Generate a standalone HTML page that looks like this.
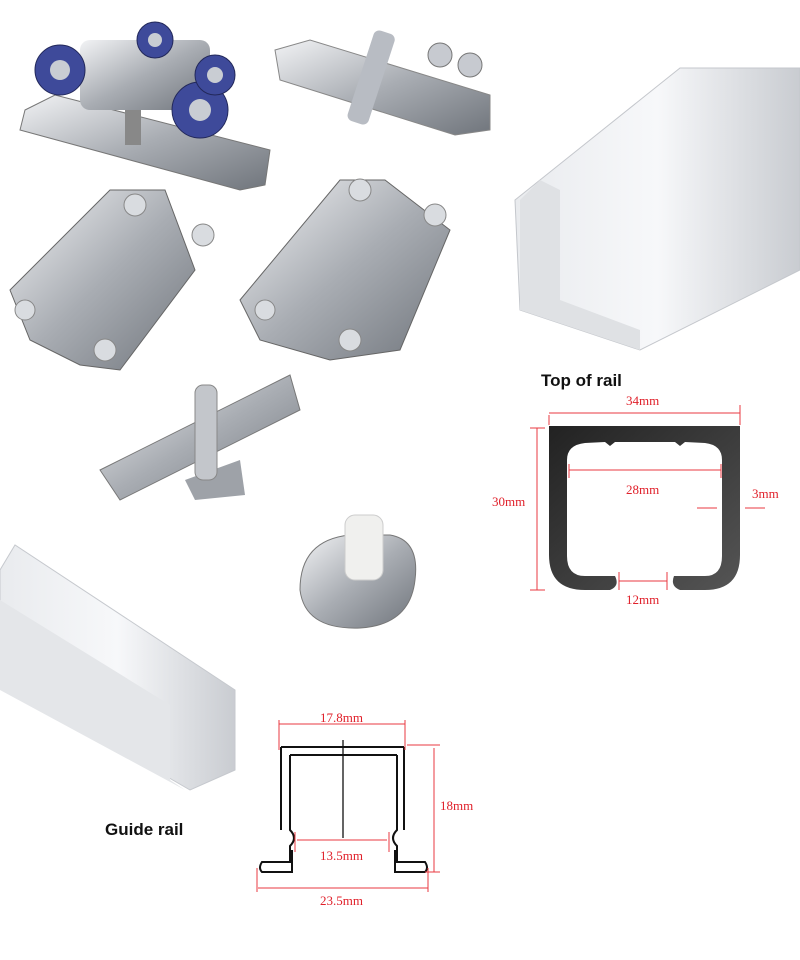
<!DOCTYPE html>
<html><head><meta charset="utf-8"><style>
html,body{margin:0;padding:0;background:#fff;width:800px;height:960px;overflow:hidden}
svg{display:block}
.d{font-family:"Liberation Serif",serif;fill:#e0202a;font-size:13px}
.t{font-family:"Liberation Sans",sans-serif;font-weight:bold;font-size:17px;fill:#111}
.r{stroke:#e83a40;stroke-width:1;fill:none}
</style></head><body>
<svg width="800" height="960" viewBox="0 0 800 960">
<defs>
<linearGradient id="m" x1="0" y1="0" x2="1" y2="1"><stop offset="0" stop-color="#f2f3f5"/><stop offset=".5" stop-color="#a9adb3"/><stop offset="1" stop-color="#70757c"/></linearGradient>
<linearGradient id="al" x1="0" y1="0" x2="1" y2="0"><stop offset="0" stop-color="#e9ebee"/><stop offset=".5" stop-color="#f7f8fa"/><stop offset="1" stop-color="#c9ccd1"/></linearGradient>
<linearGradient id="bk" x1="0" y1="0" x2="1" y2="1"><stop offset="0" stop-color="#222"/><stop offset="1" stop-color="#555"/></linearGradient>
</defs>
<!-- roller carriage -->
<path d="M25 110 L55 95 L270 150 L265 185 L240 190 L20 130Z" fill="url(#m)" stroke="#777"/>
<rect x="80" y="40" width="130" height="70" rx="10" fill="url(#m)"/>
<g fill="#3e4a9a" stroke="#22285a"><circle cx="60" cy="70" r="25"/><circle cx="200" cy="110" r="28"/><circle cx="155" cy="40" r="18"/><circle cx="215" cy="75" r="20"/></g>
<g fill="#c9cdd3"><circle cx="60" cy="70" r="10"/><circle cx="200" cy="110" r="11"/><circle cx="155" cy="40" r="7"/><circle cx="215" cy="75" r="8"/></g>
<rect x="125" y="110" width="16" height="35" fill="#888"/>
<!-- top bracket -->
<path d="M275 50 L310 40 L490 95 L490 130 L455 135 L280 80Z" fill="url(#m)" stroke="#888"/>
<rect x="360" y="30" width="22" height="95" rx="6" fill="#b8bcc3" transform="rotate(18 371 78)"/>
<circle cx="440" cy="55" r="12" fill="#c7cad0" stroke="#777"/><circle cx="470" cy="65" r="12" fill="#c7cad0" stroke="#777"/>
<!-- hinges -->
<g fill="url(#m)" stroke="#666">
<path d="M10 290 L110 190 L165 190 L195 270 L120 370 L80 365 L30 340 Z"/>
<path d="M240 300 L340 180 L385 180 L450 230 L400 350 L330 360 L260 340 Z"/>
</g>
<g fill="#d9dce0" stroke="#888"><circle cx="135" cy="205" r="11"/><circle cx="203" cy="235" r="11"/><circle cx="25" cy="310" r="10"/><circle cx="105" cy="350" r="11"/><circle cx="360" cy="190" r="11"/><circle cx="435" cy="215" r="11"/><circle cx="265" cy="310" r="10"/><circle cx="350" cy="340" r="11"/></g>
<!-- pivot -->
<path d="M100 470 L290 375 L300 410 L120 500Z" fill="url(#m)" stroke="#777"/>
<path d="M185 480 L240 460 L245 495 L195 500Z" fill="#9ea2a8"/>
<rect x="195" y="385" width="22" height="95" rx="8" fill="#c3c6cb" stroke="#888"/>
<!-- pin -->
<path d="M300 590 Q300 540 350 535 L390 535 Q420 540 415 580 Q410 625 360 628 Q305 630 300 590Z" fill="url(#m)" stroke="#777"/>
<rect x="345" y="515" width="38" height="65" rx="10" fill="#f0f0ee" stroke="#ccc"/>
<!-- top rail -->
<path d="M515 200 L680 68 L800 68 L800 270 L640 350 L520 310Z" fill="url(#al)" stroke="#c4c7cc"/>
<path d="M520 200 L540 180 L560 190 L560 300 L640 330 L640 350 L520 310Z" fill="#dfe1e4"/>
<text class="t" x="541" y="386">Top of rail</text>
<!-- black profile -->
<path fill-rule="evenodd" fill="url(#bk)" d="M549 426 L740 426 L740 555 Q740 590 705 590 L680 590 Q670 586 674 576 L705 576 Q722 576 722 556 L722 460 Q722 445 705 443 L685 442 L680 446 L675 442 L615 442 L610 446 L605 442 L585 443 Q567 445 567 460 L567 556 Q567 576 585 576 L615 576 Q620 586 610 590 L585 590 Q549 590 549 555 Z"/>
<g class="r"><path d="M549 415 V425 M740 405 V425 M549 413 H740"/><path d="M569 470 H721 M569 464 V478 M721 464 V478"/><path d="M697 508 H717 M745 508 H765"/><path d="M537 428 V590 M530 428 H545 M530 590 H545"/><path d="M619 581 H667 M619 572 V590 M667 572 V590"/></g>
<text class="d" x="626" y="405">34mm</text><text class="d" x="626" y="494">28mm</text><text class="d" x="752" y="498">3mm</text><text class="d" x="492" y="506">30mm</text><text class="d" x="626" y="604">12mm</text>
<!-- guide rail -->
<path d="M0 570 L15 545 L235 690 L235 770 L190 790 L0 680Z" fill="url(#al)" stroke="#c6c9ce"/>
<path d="M0 600 L170 705 L170 780 L185 790 L0 690Z" fill="#e4e6e9"/>
<text class="t" x="105" y="835">Guide rail</text>
<!-- guide profile -->
<g fill="none" stroke="#111" stroke-width="2"><path d="M281 747 H404 M290 755 H397 M281 747 V830 M404 747 V830 M290 755 V830 Q298 838 290 846 L290 862 H262 Q258 868 262 872 H292 L292 850 M397 755 V830 Q389 838 397 846 L397 862 H425 Q429 868 425 872 H395 L395 850"/><path d="M343 740 V838" stroke-width="1.3"/></g>
<g class="r"><path d="M279 724 H405 M279 720 V750 M405 720 V750 M407 745 H440 M434 748 V872 M425 872 H440 M297 840 H387 M295 832 V852 M389 832 V852 M258 888 H428 M257 868 V892 M428 868 V892"/></g>
<text class="d" x="320" y="722">17.8mm</text><text class="d" x="440" y="810">18mm</text><text class="d" x="320" y="860">13.5mm</text><text class="d" x="320" y="905">23.5mm</text>
</svg>
</body></html>
